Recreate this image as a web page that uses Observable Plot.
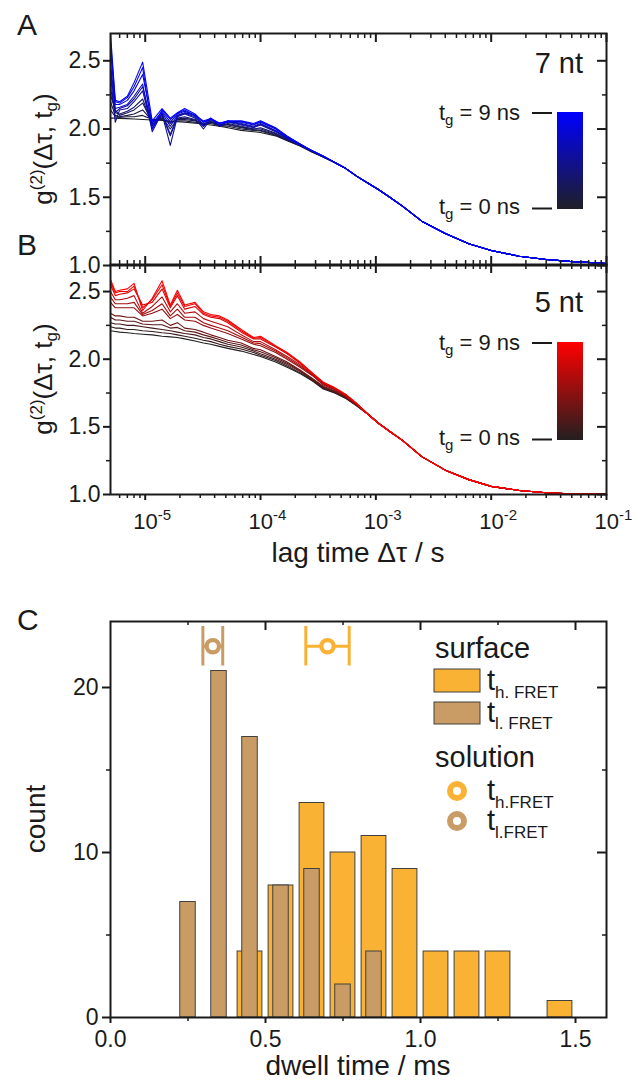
<!DOCTYPE html>
<html><head><meta charset="utf-8">
<script src="https://cdn.jsdelivr.net/npm/d3@7"></script>
<script src="https://cdn.jsdelivr.net/npm/@observablehq/plot@0.6"></script>
<style>
body{margin:0;background:#fff;}
#wrap{position:relative;width:635px;height:1083px;overflow:hidden;font-family:"Liberation Sans",Arial,Helvetica,sans-serif;color:#1a1a1a;}
#wrap > svg{position:absolute;left:0;}
</style></head><body><div id="wrap"></div>
<script>
// ---------- DATA ----------
const lagTimes = [5e-6,5.5e-6,6e-6,7e-6,8e-6,9.5e-6,1.15e-5,1.4e-5,1.65e-5,1.9e-5,2.2e-5,2.7e-5,3.2e-5,3.7e-5,4.4e-5,5.2e-5,6.8e-5,8.7e-5,1e-4,1.35e-4,1.7e-4,2.2e-4,2.8e-4,3.5e-4,4.4e-4,5.5e-4,6.8e-4,8.5e-4,1.06e-3,1.35e-3,1.7e-3,2.5e-3,4e-3,6.4e-3,1e-2,1.75e-2,3e-2,4.8e-2,1e-1];
const gateTimes = [0, 0.75, 1.5, 2.25, 3, 4.5, 5.25, 6, 7.5, 8.25, 9]; // t_g in ns

// 7 nt: noisy head (first 24 lag times) per gate time, then shared tail
const g7_tg0    = [2.08,2.08,2.078,2.076,2.074,2.07,2.066,2.062,2.058,2.054,2.05,2.043,2.037,2.03,2.02,2.01,1.99,1.98,1.975,1.95,1.915,1.875,1.83,1.795];
const g7_tg0_75 = [2.14,2.09,2.085,2.09,2.09,2.1,2.07,2.07,2.05,2.06,2.06,2.05,2.04,2.04,2.025,2.02,2.0,1.99,1.985,1.955,1.918,1.878,1.833,1.795];
const g7_tg1_5  = [2.2,2.1,2.09,2.1,2.11,2.14,2.06,2.08,2.04,2.07,2.07,2.06,2.04,2.05,2.03,2.03,2.01,1.995,1.99,1.96,1.92,1.88,1.835,1.795];
const g7_tg2_25 = [2.25,2.14,2.1,2.12,2.14,2.19,2.05,2.09,2.0,2.075,2.08,2.065,2.03,2.055,2.025,2.035,2.015,2.0,2.0,1.965,1.922,1.88,1.838,1.795];
const g7_tg3    = [2.3,2.12,2.11,2.13,2.16,2.22,2.03,2.1,1.95,2.08,2.09,2.07,2.02,2.06,2.02,2.04,2.02,2.0,2.01,1.97,1.925,1.88,1.84,1.795];
const g7_tg4_5  = [2.4,2.05,2.14,2.15,2.2,2.28,2.0,2.11,1.88,2.09,2.11,2.08,2.0,2.07,2.03,2.05,2.03,2.01,2.03,1.98,1.93,1.885,1.84,1.8];
const g7_tg5_25 = [2.44,2.12,2.15,2.17,2.22,2.31,2.02,2.115,1.96,2.095,2.115,2.09,2.02,2.075,2.025,2.055,2.035,2.015,2.035,1.985,1.932,1.885,1.84,1.8];
const g7_tg6    = [2.48,2.15,2.16,2.18,2.24,2.33,1.98,2.12,2.02,2.1,2.12,2.1,2.03,2.08,2.02,2.06,2.04,2.02,2.04,1.99,1.935,1.885,1.84,1.8];
const g7_tg7_5  = [2.58,2.18,2.18,2.21,2.28,2.4,2.04,2.13,2.05,2.11,2.13,2.1,2.05,2.07,2.04,2.05,2.05,2.03,2.05,2.0,1.94,1.89,1.84,1.8];
const g7_tg8_25 = [2.64,2.2,2.19,2.23,2.31,2.45,2.0,2.14,2.07,2.115,2.14,2.1,2.06,2.075,2.045,2.055,2.055,2.035,2.055,2.005,1.945,1.89,1.84,1.8];
const g7_tg9    = [2.7,2.21,2.2,2.24,2.34,2.49,2.06,2.15,2.08,2.12,2.15,2.11,2.05,2.08,2.04,2.06,2.06,2.04,2.06,2.01,1.95,1.89,1.84,1.8];
const g7_tail   = [1.755,1.71,1.655,1.605,1.555,1.495,1.435,1.325,1.235,1.16,1.11,1.068,1.044,1.03,1.015];

// 5 nt: noisy head (first 27 lag times) per gate time, then shared tail
const g5_tg0    = [2.21,2.205,2.2,2.195,2.19,2.185,2.18,2.17,2.165,2.16,2.15,2.135,2.12,2.11,2.095,2.08,2.06,2.035,2.02,1.98,1.94,1.895,1.84,1.78,1.75,1.71,1.655];
const g5_tg0_75 = [2.24,2.23,2.23,2.22,2.22,2.21,2.205,2.195,2.19,2.18,2.17,2.155,2.14,2.13,2.11,2.095,2.075,2.05,2.03,1.99,1.95,1.9,1.845,1.785,1.753,1.712,1.657];
const g5_tg1_5  = [2.27,2.26,2.26,2.25,2.25,2.24,2.23,2.22,2.21,2.2,2.19,2.18,2.16,2.15,2.13,2.11,2.09,2.06,2.04,2.0,1.96,1.91,1.85,1.79,1.757,1.715,1.659];
const g5_tg2_25 = [2.31,2.29,2.29,2.28,2.28,2.26,2.255,2.255,2.23,2.235,2.21,2.2,2.18,2.165,2.145,2.125,2.105,2.07,2.055,2.01,1.97,1.915,1.855,1.795,1.762,1.718,1.661];
const g5_tg3    = [2.34,2.32,2.32,2.31,2.31,2.28,2.28,2.29,2.25,2.27,2.23,2.22,2.2,2.18,2.16,2.14,2.12,2.08,2.07,2.02,1.98,1.92,1.86,1.8,1.767,1.72,1.663];
const g5_tg4_5  = [2.42,2.38,2.38,2.38,2.38,2.32,2.34,2.37,2.3,2.33,2.29,2.28,2.25,2.23,2.21,2.19,2.15,2.11,2.1,2.05,2.0,1.94,1.88,1.81,1.775,1.725,1.666];
const g5_tg5_25 = [2.46,2.41,2.41,2.41,2.42,2.33,2.36,2.41,2.32,2.37,2.31,2.31,2.27,2.25,2.23,2.21,2.165,2.12,2.115,2.06,2.01,1.95,1.885,1.815,1.778,1.728,1.667];
const g5_tg6    = [2.5,2.44,2.44,2.45,2.47,2.34,2.39,2.46,2.35,2.41,2.34,2.35,2.3,2.28,2.26,2.24,2.18,2.13,2.13,2.07,2.02,1.96,1.89,1.82,1.782,1.732,1.669];
const g5_tg7_5  = [2.55,2.47,2.48,2.49,2.52,2.4,2.42,2.52,2.38,2.47,2.37,2.39,2.33,2.31,2.3,2.27,2.2,2.15,2.15,2.09,2.04,1.97,1.895,1.825,1.786,1.736,1.672];
const g5_tg8_25 = [2.57,2.49,2.5,2.5,2.54,2.38,2.44,2.55,2.39,2.49,2.39,2.41,2.34,2.32,2.31,2.28,2.21,2.155,2.16,2.095,2.045,1.975,1.898,1.828,1.788,1.738,1.673];
const g5_tg9    = [2.59,2.5,2.51,2.52,2.56,2.36,2.45,2.58,2.4,2.51,2.4,2.42,2.35,2.33,2.32,2.29,2.22,2.16,2.17,2.1,2.05,1.98,1.9,1.83,1.79,1.74,1.675];
const g5_tail   = [1.595,1.525,1.46,1.40,1.28,1.18,1.11,1.06,1.03,1.013,1.006,1.002];

// Panel C histograms (dwell time, ms)
const highFretBins   = [0.45,0.55,0.65,0.75,0.85,0.95,1.05,1.15,1.25,1.45];
const highFretCounts = [4,8,13,10,11,9,4,4,4,1];
const lowFretBins    = [0.25,0.35,0.45,0.55,0.65,0.75,0.85];
const lowFretCounts  = [7,21,17,8,9,2,4];
// solution values (mean ± error, ms)
const solutionNames = ["h", "l"];
const solutionMean  = [0.70, 0.33];
const solutionErr   = [0.07, 0.032];

// ---------- STYLE ----------
const FONT = '"Liberation Sans", Arial, Helvetica, sans-serif';
const INK = "#1a1a1a";
const BLUE_LO = "#1f1f27", BLUE_HI = "#0000ff";
const RED_LO = "#231f20", RED_HI = "#ff0000";
const ORANGE = "#f9b233", BROWN = "#c89c64";
const TICK_FS = 23;

function buildRows(heads, tail) {
  const out = [];
  heads.forEach((h, i) => {
    h.concat(tail).forEach((g, j) => out.push({lag: lagTimes[j], g, tg: gateTimes[i]}));
  });
  return out;
}
const rowsA = buildRows([g7_tg0,g7_tg0_75,g7_tg1_5,g7_tg2_25,g7_tg3,g7_tg4_5,g7_tg5_25,g7_tg6,g7_tg7_5,g7_tg8_25,g7_tg9], g7_tail);
const rowsB = buildRows([g5_tg0,g5_tg0_75,g5_tg1_5,g5_tg2_25,g5_tg3,g5_tg4_5,g5_tg5_25,g5_tg6,g5_tg7_5,g5_tg8_25,g5_tg9], g5_tail);

const decades = [1e-5,1e-4,1e-3,1e-2,1e-1];
const minorLog = [];
for (let e = -6; e <= -2; e++) for (let m = 2; m <= 9; m++) { const v = +(m * Math.pow(10, e)).toPrecision(3); if (v > 5e-6 && v < 0.1) minorLog.push(v); }
const gMajor = [1, 1.5, 2, 2.5], gMinor = [1.25, 1.75, 2.25];

const W = 635, ML = 110, MR = 29, innerW = W - ML - MR;

function corrPlot(rows, lo, hi, mt, mb, h, bottomAxis) {
  const innerH = h - mt - mb;
  const marks = [
    Plot.line(rows, {x: "lag", y: "g", z: "tg", stroke: "tg", strokeWidth: 1.1}),
    Plot.axisY({ticks: gMajor, tickSize: 7, tickPadding: 3, tickFormat: d3.format(".1f"), fontSize: TICK_FS, strokeWidth: 2, label: null}),
    Plot.axisY({ticks: gMinor, tickSize: 4, tickFormat: () => "", strokeWidth: 1.5, label: null}),
    Plot.tickY(gMajor, {y: d => d, insetLeft: innerW - 9, strokeWidth: 2}),
    Plot.tickY(gMinor, {y: d => d, insetLeft: innerW - 4, strokeWidth: 1.5}),
    Plot.tickX(decades, {x: d => d, insetBottom: innerH - 9, strokeWidth: 2}),
    Plot.tickX(minorLog, {x: d => d, insetBottom: innerH - 5, strokeWidth: 1.5}),
  ];
  if (bottomAxis) {
    marks.push(
      Plot.axisX({ticks: decades, tickSize: 6, tickPadding: 13, tickFormat: d => "10^" + Math.round(Math.log10(d)), fontSize: 22, strokeWidth: 2, label: null}),
      Plot.axisX({ticks: minorLog, tickSize: 4, tickFormat: () => "", strokeWidth: 1.5, label: null})
    );
  } else {
    marks.push(
      Plot.tickX(decades, {x: d => d, insetTop: innerH - 9, strokeWidth: 2}),
      Plot.tickX(minorLog, {x: d => d, insetTop: innerH - 5, strokeWidth: 1.5})
    );
  }
  marks.push(Plot.frame({stroke: INK, strokeWidth: 2}));
  return Plot.plot({
    width: W, height: h, marginLeft: ML, marginRight: MR, marginTop: mt, marginBottom: mb,
    style: {background: "transparent", fontFamily: FONT, fontSize: TICK_FS + "px", color: INK, overflow: "visible"},
    x: {type: "log", domain: [5e-6, 0.1], ...(bottomAxis ? {} : {axis: null})},
    y: {domain: [1, 2.7]},
    color: {type: "linear", domain: [0, 9], range: [lo, hi], interpolate: "rgb"},
    marks
  });
}

const wrap = document.getElementById("wrap");
const plotA = corrPlot(rowsA, BLUE_LO, BLUE_HI, 33, 10, 275, false);
plotA.style.top = "0px";
const plotB = corrPlot(rowsB, RED_LO, RED_HI, 24, 50, 304, true);
plotB.style.top = "240px";

// superscript exponents on log tick labels
d3.select(plotB).selectAll("text").each(function () {
  const m = /^10\^(-?\d+)$/.exec(this.textContent);
  if (m) {
    const s = d3.select(this);
    s.text("10").attr("text-anchor", "start").attr("dx", -12);
    s.append("tspan").attr("dy", "-9").attr("font-size", "15px").text(m[1]);
  }
});

// Panel C
const hiRows = highFretBins.map((b, i) => ({b, c: highFretCounts[i]}));
const loRows = lowFretBins.map((b, i) => ({b, c: lowFretCounts[i]}));
const solRows = solutionNames.map((n, i) => ({n, m: solutionMean[i], e: solutionErr[i], col: i === 0 ? ORANGE : BROWN}));
const cMT = 21, cMB = 50, cH = 467, cInnerH = cH - cMT - cMB;
const markY = 22.5, capLo = 21.3, capHi = 23.7;
const plotC = Plot.plot({
  width: W, height: cH, marginLeft: ML, marginRight: MR, marginTop: cMT, marginBottom: cMB,
  style: {background: "transparent", fontFamily: FONT, fontSize: TICK_FS + "px", color: INK, overflow: "visible"},
  x: {domain: [0, 1.6]},
  y: {domain: [0, 24]},
  marks: [
    Plot.rect(hiRows, {x1: d => d.b - 0.04, x2: d => d.b + 0.04, y1: 0, y2: "c", fill: ORANGE, stroke: "#404040", strokeWidth: 1}),
    Plot.rect(loRows, {x1: d => d.b - 0.025, x2: d => d.b + 0.025, y1: 0, y2: "c", fill: BROWN, stroke: "#404040", strokeWidth: 1}),
    Plot.ruleY(solRows, {y: markY, x1: d => d.m - d.e, x2: d => d.m + d.e, stroke: "col", strokeWidth: 3}),
    Plot.ruleX(solRows, {x: d => d.m - d.e, y1: capLo, y2: capHi, stroke: "col", strokeWidth: 3}),
    Plot.ruleX(solRows, {x: d => d.m + d.e, y1: capLo, y2: capHi, stroke: "col", strokeWidth: 3}),
    Plot.dot(solRows, {x: "m", y: markY, r: 6.2, stroke: "col", strokeWidth: 4.3, fill: "white"}),
    Plot.axisX({ticks: [0, 0.5, 1, 1.5], tickSize: 6, tickPadding: 7, tickFormat: d3.format(".1f"), fontSize: TICK_FS, strokeWidth: 2, label: null}),
    Plot.axisX({ticks: [0.25, 0.75, 1.25], tickSize: 4, tickFormat: () => "", strokeWidth: 1.5, label: null}),
    Plot.axisY({ticks: [0, 10, 20], tickSize: 8, tickPadding: 4, tickFormat: d3.format("d"), fontSize: TICK_FS, strokeWidth: 2, label: null}),
    Plot.axisY({ticks: [5, 15], tickSize: 4, tickFormat: () => "", strokeWidth: 1.5, label: null}),
    Plot.tickX([0.5, 1, 1.5], {x: d => d, insetBottom: cInnerH - 9, strokeWidth: 2}),
    Plot.tickX([0.25, 0.75, 1.25], {x: d => d, insetBottom: cInnerH - 4, strokeWidth: 1.5}),
    Plot.tickY([10, 20], {y: d => d, insetLeft: innerW - 9, strokeWidth: 2}),
    Plot.tickY([5, 15], {y: d => d, insetLeft: innerW - 4, strokeWidth: 1.5}),
    Plot.frame({stroke: INK, strokeWidth: 2})
  ]
});
plotC.style.top = "600px";

wrap.append(plotA, plotB, plotC);

// ---------- annotations / legends ----------
const tgMax = d3.max(gateTimes), tgMin = d3.min(gateTimes);
function tgLabel(x, y, v) {
  return `<text x="${x}" y="${y}" font-size="22" text-anchor="end">t<tspan font-size="15" dy="5">g</tspan><tspan dy="-5"> = ${v} ns</tspan></text>`;
}
function colorbar(id, y0, y1) {
  return `${tgLabel(520, y0 + 8, tgMax)}<line x1="532" x2="552" y1="${y0 + 1}" y2="${y0 + 1}" stroke="${INK}" stroke-width="2"/>
  <rect x="557" y="${y0}" width="26" height="${y1 - y0}" fill="url(#${id})"/>
  ${tgLabel(520, y1 + 5, tgMin)}<line x1="532" x2="552" y1="${y1 - 0.5}" y2="${y1 - 0.5}" stroke="${INK}" stroke-width="2"/>
  `;
}
function yTitle(cx, cy) {
  return `<text transform="translate(${cx},${cy}) rotate(-90)" text-anchor="middle" font-size="26">g<tspan font-size="17" dy="-10">(2)</tspan><tspan font-size="26" dy="10">(Δτ, t</tspan><tspan font-size="17" dy="5">g</tspan><tspan font-size="26" dy="-5">)</tspan></text>`;
}
const overlay = `<svg width="635" height="1083" style="top:0;pointer-events:none" font-family='${FONT}' fill="${INK}">
<defs>
<linearGradient id="gA" x1="0" y1="1" x2="0" y2="0"><stop offset="0" stop-color="${BLUE_LO}"/><stop offset="1" stop-color="${BLUE_HI}"/></linearGradient>
<linearGradient id="gB" x1="0" y1="1" x2="0" y2="0"><stop offset="0" stop-color="${RED_LO}"/><stop offset="1" stop-color="${RED_HI}"/></linearGradient>
</defs>
<text x="17" y="35" font-size="30">A</text>
<text x="17" y="255" font-size="30">B</text>
<text x="17" y="630" font-size="30">C</text>
<text x="583" y="73" font-size="29" text-anchor="end">7 nt</text>
${colorbar("gA", 112, 209)}
<text x="583" y="312" font-size="29" text-anchor="end">5 nt</text>
${colorbar("gB", 342, 440)}
${yTitle(52, 149)}
${yTitle(52, 379)}
<text x="358" y="562" font-size="28" text-anchor="middle">lag time Δτ / s</text>
<text x="358" y="1075" font-size="28" text-anchor="middle">dwell time / ms</text>
<text transform="translate(45,819) rotate(-90)" text-anchor="middle" font-size="28">count</text>
<text x="435" y="658" font-size="29">surface</text>
<rect x="434" y="669" width="46" height="23" fill="${ORANGE}" stroke="#404040" stroke-width="1"/>
<rect x="434" y="702" width="46" height="22" fill="${BROWN}" stroke="#404040" stroke-width="1"/>
<text x="487" y="690" font-size="29">t<tspan font-size="17" dy="8">h. FRET</tspan></text>
<text x="487" y="722" font-size="29">t<tspan font-size="17" dy="7">l. FRET</tspan></text>
<text x="435" y="767" font-size="29">solution</text>
<circle cx="457" cy="791" r="7" fill="white" stroke="${ORANGE}" stroke-width="6"/>
<circle cx="457" cy="821" r="7" fill="white" stroke="${BROWN}" stroke-width="6"/>
<text x="487" y="800" font-size="29">t<tspan font-size="17" dy="8">h.FRET</tspan></text>
<text x="487" y="830" font-size="29">t<tspan font-size="17" dy="8">l.FRET</tspan></text>
</svg>`;
wrap.insertAdjacentHTML("beforeend", overlay);
</script></body></html>
